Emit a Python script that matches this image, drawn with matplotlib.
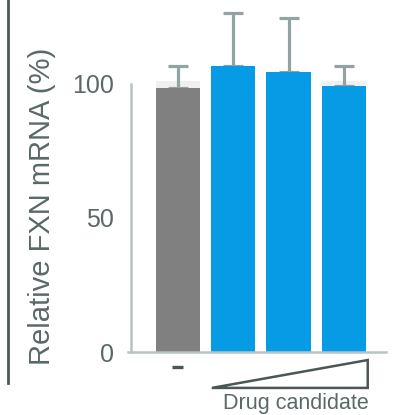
import matplotlib
matplotlib.use("Agg")
import matplotlib.pyplot as plt
from matplotlib.lines import Line2D
from matplotlib.patches import Polygon

# ---- data ----
groups = ["-", "dose 1", "dose 2", "dose 3"]
values = [98.5, 106.7, 104.5, 99.3]
errors = [8.2, 19.9, 20.1, 7.4]
shade = [101, 101, 101, 101]          # faint backing bars
colors = ["#808080", "#069be4", "#069be4", "#069be4"]
yticks = [0, 50, 100]

txt = "#5b6868"
axis_col = "#b9c3c3"
err_col = "#93a3a3"

plt.rcParams["font.family"] = ["Liberation Sans", "DejaVu Sans"]

W, H = 398, 415
fig = plt.figure(figsize=(W / 100, H / 100), dpi=100)
ax = fig.add_axes([128 / W, (H - 352) / H, 258 / W, 130 * 2.68 / H])

x = list(range(len(values)))
ax.bar(x, shade, width=0.8, color="#f0f0f0", zorder=1)
ax.bar(x, values, width=0.8, color=colors, zorder=2)
ax.errorbar(x, values, yerr=[[0] * len(errors), errors], fmt="none",
            ecolor=err_col, elinewidth=2.3, capsize=7.5, capthick=2.3, zorder=1.5)

# spines first (set_position resets tick styling)
for s in ["top", "right"]:
    ax.spines[s].set_visible(False)
ax.spines["left"].set_bounds(0, 100)
ax.spines["left"].set_position(("axes", 3 / 258))
for s in ["left", "bottom"]:
    ax.spines[s].set_color(axis_col)
    ax.spines[s].set_linewidth(1.8)

ax.set_xlim(-0.9, 3.76)
ax.set_ylim(0, 130)
ax.set_yticks(yticks)
ax.set_yticklabels([str(t) for t in yticks])
ax.set_xticks([])
ax.tick_params(axis="y", length=0, pad=12, labelsize=18, labelcolor=txt)

ax.set_ylabel("Relative FXN mRNA (%)", fontsize=21, color=txt)
ax.yaxis.set_label_coords(-(128 - 56) / 258, (352 - 206) / (130 * 2.68))

# "minus" marker under the control bar
ax.plot([x[0] - 0.1, x[0] + 0.1], [-5.6, -5.6], color="#4b5757", linewidth=2.4,
        solid_capstyle="butt", clip_on=False)

# dose-ramp triangle under the treated bars
tri = Polygon([(x[1] - 0.385, -13.4), (x[3] + 0.43, -3.0), (x[3] + 0.43, -13.4)],
              closed=True, fill=False, edgecolor="#4b5757", linewidth=1.8,
              joinstyle="miter", clip_on=False)
ax.add_patch(tri)
ax.text(2.13, -19.2, "Drug candidate", ha="center", va="center", fontsize=15.5,
        color=txt, clip_on=False)

# dark vertical rule at the far left
fig.add_artist(Line2D([8 / W, 8 / W], [(H - 383) / H, 1.0], color="#4b5858",
                      linewidth=2.0))

fig.savefig("out.png", dpi=100)
